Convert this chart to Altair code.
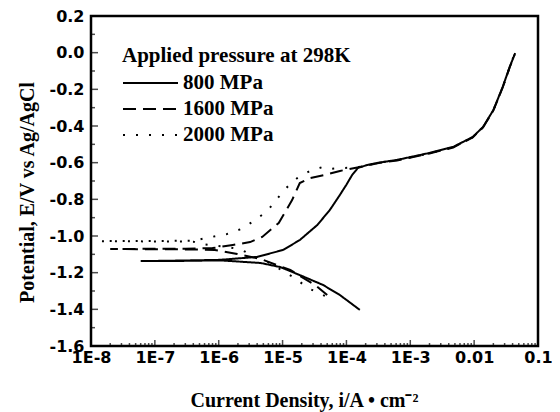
import altair as alt
import pandas as pd

series_names = ["800 MPa", "1600 MPa", "2000 MPa"]

# 800 MPa (solid): cathodic end -> minimum current -> anodic end
i_800 = [1.62e-4, 7.9e-5, 4.3e-5, 1.86e-5, 9.1e-6, 4.5e-6, 1.05e-6, 2.45e-7, 6.0e-8,
         2.45e-7, 1.05e-6, 4.0e-6, 1.02e-5, 1.86e-5, 3.5e-5, 5.5e-5, 7.9e-5, 1.0e-4, 1.23e-4, 1.51e-4,
         2.1e-4, 3.2e-4, 6.2e-4, 2.0e-3, 4.7e-3, 9.5e-3, 1.38e-2, 2.0e-2, 2.8e-2, 3.6e-2, 4.4e-2]
e_800 = [-1.403, -1.322, -1.267, -1.213, -1.169, -1.147, -1.133, -1.136, -1.137,
         -1.134, -1.130, -1.114, -1.076, -1.022, -0.940, -0.858, -0.776, -0.720, -0.667, -0.629,
         -0.613, -0.600, -0.585, -0.547, -0.514, -0.460, -0.405, -0.313, -0.187, -0.078, -0.002]

# 1600 MPa (dashed)
i_1600 = [5.0e-5, 3.24e-5, 2.1e-5, 1.32e-5, 8.1e-6, 4.5e-6, 1.95e-6, 8.7e-7, 3.0e-7, 2.0e-8,
          3.0e-7, 8.0e-7, 1.66e-6, 3.1e-6, 4.8e-6, 8.7e-6, 1.41e-5, 1.86e-5, 2.7e-5, 4.6e-5, 7.9e-5, 1.35e-4,
          2.1e-4, 3.2e-4, 6.2e-4, 2.0e-3, 4.7e-3, 9.5e-3, 1.38e-2, 2.0e-2, 2.8e-2, 3.6e-2, 4.3e-2]
e_1600 = [-1.322, -1.267, -1.229, -1.185, -1.158, -1.125, -1.098, -1.076, -1.073, -1.071,
          -1.069, -1.066, -1.049, -1.033, -1.005, -0.929, -0.804, -0.711, -0.684, -0.667, -0.645, -0.629,
          -0.615, -0.602, -0.588, -0.550, -0.517, -0.462, -0.407, -0.315, -0.190, -0.080, -0.010]

# 2000 MPa (dotted)
i_2000 = [4.6e-5, 2.5e-5, 1.55e-5, 9.0e-6, 5.9e-6, 3.7e-6, 2.3e-6, 1.4e-6, 5.5e-7, 4.0e-7, 1.4e-8,
          4.0e-7, 7.8e-7, 1.35e-6, 2.24e-6, 3.55e-6, 5.75e-6, 8.7e-6, 1.26e-5, 1.7e-5, 2.7e-5, 4.2e-5,
          5.5e-5, 7.9e-5, 1.5e-4,
          2.1e-4, 3.2e-4, 6.2e-4, 2.0e-3, 4.7e-3, 9.5e-3, 1.38e-2, 2.0e-2, 2.8e-2, 3.6e-2, 4.3e-2]
e_2000 = [-1.327, -1.284, -1.229, -1.180, -1.142, -1.114, -1.076, -1.060, -1.045, -1.031, -1.028,
          -1.026, -1.005, -0.989, -0.962, -0.918, -0.864, -0.787, -0.722, -0.684, -0.645, -0.624,
          -0.634, -0.630, -0.626,
          -0.613, -0.601, -0.586, -0.549, -0.516, -0.461, -0.406, -0.314, -0.189, -0.079, -0.005]

x_major = [1e-8, 1e-7, 1e-6, 1e-5, 1e-4, 1e-3, 1e-2, 1e-1]
x_labels = ["1E-8", "1E-7", "1E-6", "1E-5", "1E-4", "1E-3", "0.01", "0.1"]
x_minor = [m * 10.0 ** k for k in range(-8, -1) for m in range(2, 10)]
y_major = [0.2, 0.0, -0.2, -0.4, -0.6, -0.8, -1.0, -1.2, -1.4, -1.6]
y_minor = [0.1, -0.1, -0.3, -0.5, -0.7, -0.9, -1.1, -1.3, -1.5]

rows = []
for name, xs, ys in [(series_names[0], i_800, e_800),
                     (series_names[1], i_1600, e_1600),
                     (series_names[2], i_2000, e_2000)]:
    for k, (a, b) in enumerate(zip(xs, ys)):
        rows.append({"series": name, "i": a, "E": b, "idx": k})
df = pd.DataFrame(rows)

W, H = 447, 330
SERIF = "Liberation Serif"
SANS = "DejaVu Sans"

label_arr = "[" + ",".join("'%s'" % s for s in x_labels) + "]"

xscale = alt.Scale(type="log", domain=[1e-8, 0.1], nice=False)
yscale = alt.Scale(domain=[-1.6, 0.2], nice=False, zero=False)

xaxis = alt.Axis(values=x_major, labelExpr=label_arr + "[round(log(datum.value)/LN10)+8]",
                 title="Current Density, i/A \u2022 cm\u207b\u00b2", grid=False, ticks=False, domain=False,
                 labelFont=SANS, labelFontSize=16, labelFontWeight="bold", labelColor="black",
                 labelPadding=3, labelOverlap=False, titleFont=SERIF, titleFontSize=20,
                 titleFontWeight="bold", titleColor="black", titlePadding=25, titleX=213,
                 labelFlush=False)
yaxis = alt.Axis(values=y_major,
                 labelExpr="(datum.value < -0.001 ? '-' : '') + format(abs(datum.value), '.1f')",
                 title="Potential, E/V vs Ag/AgCl", grid=False, ticks=False, domain=False,
                 labelFont=SANS, labelFontSize=16, labelFontWeight="bold", labelColor="black",
                 labelPadding=7, labelOverlap=False, titleFont=SERIF, titleFontSize=20,
                 titleFontWeight="bold", titleColor="black", titlePadding=12, titleY=176,
                 labelFlush=False)

lines = alt.Chart(df).mark_line(color="black", strokeWidth=2, strokeCap="butt").encode(
    x=alt.X("i:Q", scale=xscale, axis=xaxis),
    y=alt.Y("E:Q", scale=yscale, axis=yaxis),
    order="idx:Q",
    strokeDash=alt.StrokeDash(
        "series:N",
        scale=alt.Scale(domain=series_names, range=[[1, 0], [13, 7], [2, 11]]),
        sort=series_names,
        legend=alt.Legend(
            title="Applied pressure at 298K", orient="none", legendX=31, legendY=29,
            symbolType="stroke", symbolSize=3025, symbolStrokeWidth=2, symbolStrokeColor="black",
            clipHeight=20, rowPadding=5, labelOffset=4, padding=0, titlePadding=7,
            titleLimit=400, labelLimit=300,
            labelFont=SERIF, labelFontSize=21, labelFontWeight="bold", labelColor="black",
            titleFont=SERIF, titleFontSize=21, titleFontWeight="bold", titleColor="black",
        ),
    ),
)

xmaj_df = pd.DataFrame({"v": x_major})
xmin_df = pd.DataFrame({"v": x_minor})
ymaj_df = pd.DataFrame({"v": y_major})
ymin_df = pd.DataFrame({"v": y_minor})

xt_major = alt.Chart(xmaj_df).mark_tick(color="black", thickness=1.5, size=12, orient="vertical",
                                        clip=True).encode(
    x=alt.X("v:Q", scale=xscale, axis=xaxis), y=alt.value(H))
xt_minor = alt.Chart(xmin_df).mark_tick(color="black", thickness=1.5, size=6, orient="vertical",
                                        clip=True).encode(
    x=alt.X("v:Q", scale=xscale, axis=xaxis), y=alt.value(H))
yt_major = alt.Chart(ymaj_df).mark_tick(color="black", thickness=1.5, size=14, orient="horizontal",
                                        clip=True).encode(
    y=alt.Y("v:Q", scale=yscale, axis=yaxis), x=alt.value(0))
yt_minor = alt.Chart(ymin_df).mark_tick(color="black", thickness=1.5, size=8, orient="horizontal",
                                        clip=True).encode(
    y=alt.Y("v:Q", scale=yscale, axis=yaxis), x=alt.value(0))

chart = alt.layer(lines, xt_major, xt_minor, yt_major, yt_minor).properties(
    width=W, height=H,
    padding={"left": 83, "top": 8, "right": 14, "bottom": 66},
    autosize=alt.AutoSizeParams(type="none"),
    background="white",
).configure_view(stroke="black", strokeWidth=2.5)

chart.save("out.html", embed_options={"renderer": "svg", "actions": False})
